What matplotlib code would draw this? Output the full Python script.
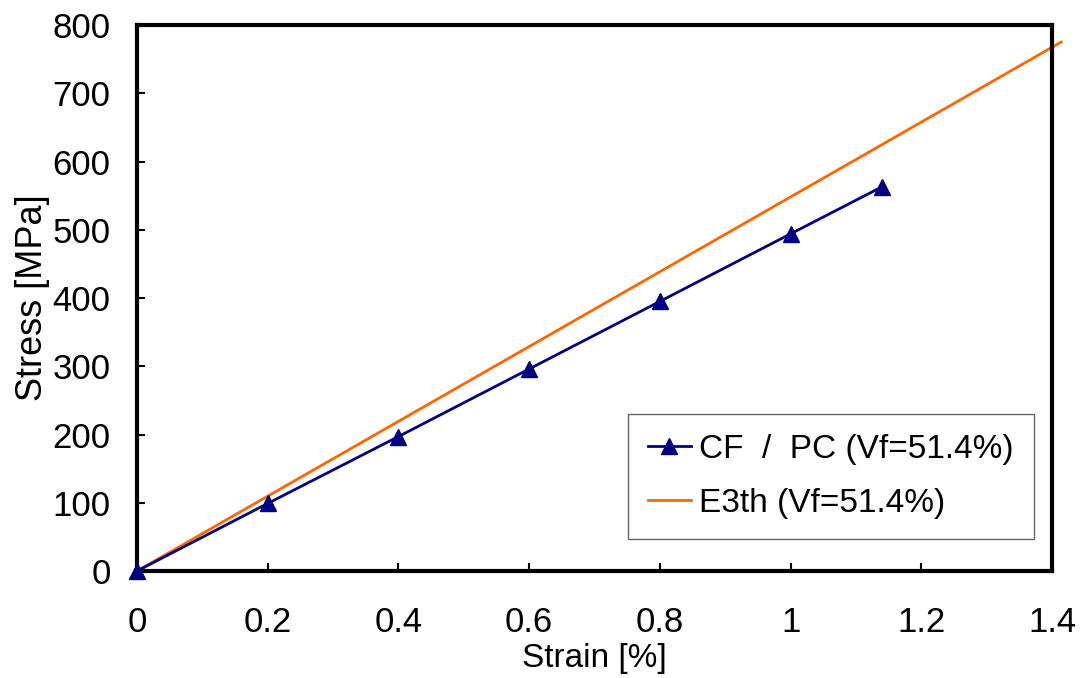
import matplotlib
matplotlib.use("Agg")
import matplotlib.pyplot as plt

plt.rcParams['font.family'] = ['Liberation Sans', 'DejaVu Sans']

# measured CF/PC stress-strain
strain = [0, 0.2, 0.4, 0.6, 0.8, 1.0, 1.14]
stress = [0, 99, 197, 296, 395, 494, 563]

# theoretical modulus line (E3th)
theory_strain = [0, 1.414]
theory_stress = [0, 775]

xticks = [0, 0.2, 0.4, 0.6, 0.8, 1, 1.2, 1.4]
xtick_labels = ['0', '0.2', '0.4', '0.6', '0.8', '1', '1.2', '1.4']
yticks = [0, 100, 200, 300, 400, 500, 600, 700, 800]

fig = plt.figure(figsize=(10.82, 6.78), dpi=100)
ax = fig.add_axes([0.1266, 0.1578, 0.8457, 0.8053])

ax.plot(strain, stress, color='#000080', lw=2, marker='^', markersize=12,
        label='CF  /  PC (Vf=51.4%)', clip_on=False, zorder=3)
ax.plot(theory_strain, theory_stress, color='#FF6600', lw=2,
        label='E3th (Vf=51.4%)', clip_on=False, zorder=2)

ax.set_xlim(0, 1.4)
ax.set_ylim(0, 800)
ax.set_xticks(xticks)
ax.set_xticklabels(xtick_labels)
ax.set_yticks(yticks)
ax.tick_params(direction='in', length=6, width=1.5, labelsize=25)
ax.tick_params(axis='x', pad=25)
ax.tick_params(axis='y', pad=19)
for s in ax.spines.values():
    s.set_linewidth(3)
    s.set_color('black')

ax.set_xlabel('Strain [%]', fontsize=24, labelpad=3)
ax.set_ylabel('Stress [MPa]', fontsize=26, labelpad=2)

leg = ax.legend(loc='lower right', bbox_to_anchor=(0.9803, 0.0585), fontsize=24,
                frameon=True, fancybox=False, edgecolor='#404040',
                handlelength=1.3, handletextpad=0.25, borderpad=0.6,
                labelspacing=0.7, borderaxespad=0)
leg.get_frame().set_linewidth(1)

fig.savefig('out.png', dpi=100)
